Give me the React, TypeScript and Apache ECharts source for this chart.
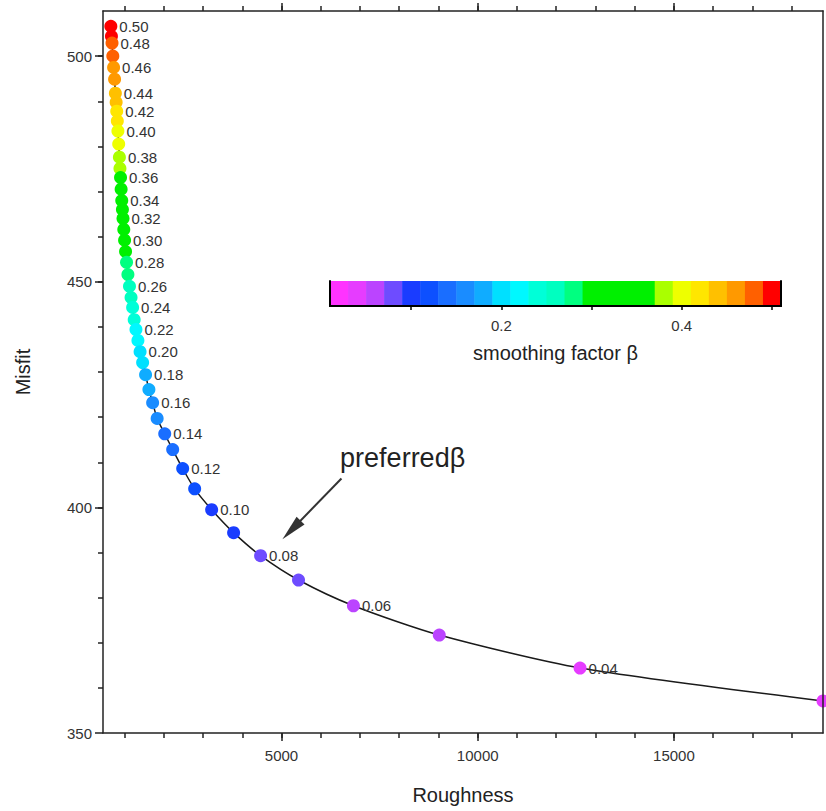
import { useEffect, useRef } from 'react';
import * as echarts from 'echarts';

// smoothing factor β for each point (top of the curve to bottom)
const betaValues = [
  0.5, 0.49, 0.48, 0.47, 0.46, 0.45, 0.44, 0.43, 0.42, 0.41, 0.4, 0.39, 0.38, 0.37, 0.36, 0.35,
  0.34, 0.33, 0.32, 0.31, 0.3, 0.29, 0.28, 0.27, 0.26, 0.25, 0.24, 0.23, 0.22, 0.21, 0.2, 0.19,
  0.18, 0.17, 0.16, 0.15, 0.14, 0.13, 0.12, 0.11, 0.1, 0.09, 0.08, 0.07, 0.06, 0.05, 0.04, 0.03,
];
const roughness = [
  650, 665, 680, 700, 720, 745, 765, 785, 800, 815, 830, 850, 868, 882, 897, 912,
  928, 945, 960, 980, 1000, 1025, 1050, 1085, 1125, 1165, 1205, 1245, 1290, 1340, 1395, 1460,
  1535, 1620, 1715, 1830, 2023, 2226, 2481, 2786, 3219, 3779, 4466, 5433, 6832, 9020, 12608, 18800,
];
const misfit = [
  506.6, 504.4, 502.9, 500.0, 497.5, 494.9, 491.8, 489.8, 487.8, 485.6, 483.4, 480.5, 477.6, 475.1, 473.1, 470.5,
  468.0, 466.0, 464.0, 461.6, 459.2, 456.7, 454.3, 451.6, 449.0, 446.5, 444.3, 441.6, 439.4, 437.0, 434.5, 432.1,
  429.4, 426.1, 423.2, 419.7, 416.3, 412.8, 408.6, 404.1, 399.5, 394.4, 389.3, 383.9, 378.2, 371.7, 364.4, 357.1,
];

// colour bar: segment centres and colours
const segmentCenters = [
  0.02, 0.04, 0.06, 0.08, 0.1, 0.12, 0.14, 0.16, 0.18, 0.2, 0.22, 0.24, 0.26,
  0.28, 0.3, 0.32, 0.34, 0.36, 0.38, 0.4, 0.42, 0.44, 0.46, 0.48, 0.5,
];
const segmentColors = [
  '#ff33ff', '#e63cff', '#bb44ff', '#6e4cff', '#1a3cff', '#0d50ff', '#1a6eff', '#1a8cff', '#10acff',
  '#00e0ff', '#00f8ff', '#00ffd8', '#00ffc0', '#00ff80', '#00f000', '#00f000', '#00f000', '#00f000',
  '#aaff00', '#eeff00', '#ffe600', '#ffc000', '#ff9900', '#ff6000', '#ff0000',
];
const colorbarTicks = [0.1, 0.2, 0.3, 0.4, 0.5];
const colorbarLabels = [0.2, 0.4];

// axes
const xMin = 450;
const xMax = 18800;
const yMin = 350;
const yMax = 510;
const xMajorTicks = [5000, 10000, 15000];
const xMinorTicks = [1000, 2000, 3000, 4000, 5000, 6000, 7000, 8000, 9000, 10000, 11000, 12000, 13000, 14000, 15000, 16000, 17000, 18000];
const yMajorTicks = [350, 400, 450, 500];
const yMinorTicks = [360, 370, 380, 390, 400, 410, 420, 430, 440, 450, 460, 470, 480, 490, 500];

// annotation (data coordinates)
const arrowStart = [6527, 406.4];
const arrowEnd = [5254, 395.0];
const annotationAnchor = [6480, 411.0];
const annotationText = 'preferredβ';

const FONT = '"Liberation Sans", Arial, Helvetica, sans-serif';

function pointColor(b: number) {
  const k = Math.round(b * 100);
  const idx = Math.min(segmentColors.length, Math.max(1, Math.round(k / 2))) - 1;
  return segmentColors[idx];
}

const plain = (v: number) => String(v);

export default function App() {
  const ref = useRef<HTMLDivElement>(null);
  useEffect(() => {
    if (!ref.current) return;
    const chart = echarts.init(ref.current, undefined, { renderer: 'svg' });

    const lineData = betaValues.map((b, i) => {
      const k = Math.round(b * 100);
      return {
        value: [roughness[i], misfit[i]],
        itemStyle: { color: pointColor(b) },
        label: { show: k % 2 === 0 },
        beta: b,
      };
    });

    const hiddenAxisBase = {
      axisLabel: { show: false },
      splitLine: { show: false },
    };

    const option: any = {
      animation: false,
      backgroundColor: '#ffffff',
      textStyle: { fontFamily: FONT },
      grid: [
        { left: 103, top: 11, right: 3, bottom: 78, containLabel: false },
        { left: 330, top: 281, width: 451, height: 25, containLabel: false },
      ],
      xAxis: [
        {
          gridIndex: 0, type: 'value', position: 'bottom', min: xMin, max: xMax,
          axisLine: { show: true, lineStyle: { color: '#222', width: 1.5 } },
          axisTick: { show: true, customValues: xMajorTicks, length: 8, lineStyle: { color: '#222', width: 1.5 } },
          axisLabel: { show: true, customValues: xMajorTicks, formatter: plain, fontSize: 15, color: '#333', margin: 15, fontFamily: FONT },
          splitLine: { show: false },
          name: 'Roughness', nameLocation: 'middle', nameGap: 52,
          nameTextStyle: { fontSize: 20, color: '#222', fontFamily: FONT },
          z: 10,
        },
        {
          gridIndex: 0, type: 'value', position: 'bottom', min: xMin, max: xMax,
          axisLine: { show: false },
          axisTick: { show: true, customValues: xMinorTicks, length: 5, lineStyle: { color: '#222', width: 1.5 } },
          ...hiddenAxisBase,
          z: 10,
        },
        {
          gridIndex: 0, type: 'value', position: 'top', min: xMin, max: xMax,
          axisLine: { show: true, lineStyle: { color: '#222', width: 1.5 } },
          axisTick: { show: true, customValues: xMajorTicks, length: 8, lineStyle: { color: '#222', width: 1.5 } },
          ...hiddenAxisBase,
          z: 10,
        },
        {
          gridIndex: 0, type: 'value', position: 'top', min: xMin, max: xMax,
          axisLine: { show: false },
          axisTick: { show: true, customValues: xMinorTicks, length: 5, lineStyle: { color: '#222', width: 1.5 } },
          ...hiddenAxisBase,
          z: 10,
        },
        {
          gridIndex: 1, type: 'value', position: 'bottom', min: 0.01, max: 0.51,
          axisLine: { show: true, lineStyle: { color: '#000', width: 2 } },
          axisTick: { show: true, customValues: colorbarTicks, length: 4, lineStyle: { color: '#000', width: 1.5 } },
          axisLabel: { show: true, customValues: colorbarLabels, formatter: plain, fontSize: 15, color: '#333', margin: 12, fontFamily: FONT },
          splitLine: { show: false },
          name: 'smoothing factor β', nameLocation: 'middle', nameGap: 37,
          nameTextStyle: { fontSize: 20, color: '#222', fontFamily: FONT },
          z: 10,
        },
        {
          gridIndex: 1, type: 'value', position: 'top', min: 0.01, max: 0.51,
          axisLine: { show: true, lineStyle: { color: '#000', width: 2 } },
          axisTick: { show: false },
          ...hiddenAxisBase,
          z: 10,
        },
      ],
      yAxis: [
        {
          gridIndex: 0, type: 'value', position: 'left', min: yMin, max: yMax,
          axisLine: { show: true, lineStyle: { color: '#222', width: 1.5 } },
          axisTick: { show: true, customValues: yMajorTicks, length: 8, lineStyle: { color: '#222', width: 1.5 } },
          axisLabel: { show: true, customValues: yMajorTicks, formatter: plain, fontSize: 15, color: '#333', margin: 11, fontFamily: FONT },
          splitLine: { show: false },
          name: 'Misfit', nameLocation: 'middle', nameGap: 70, nameRotate: 90,
          nameTextStyle: { fontSize: 20, color: '#222', fontFamily: FONT },
          z: 10,
        },
        {
          gridIndex: 0, type: 'value', position: 'left', min: yMin, max: yMax,
          axisLine: { show: false },
          axisTick: { show: true, customValues: yMinorTicks, length: 5, lineStyle: { color: '#222', width: 1.5 } },
          ...hiddenAxisBase,
          z: 10,
        },
        {
          gridIndex: 0, type: 'value', position: 'right', min: yMin, max: yMax,
          axisLine: { show: true, lineStyle: { color: '#222', width: 1.5 } },
          axisTick: { show: false },
          ...hiddenAxisBase,
          z: 10,
        },
        {
          gridIndex: 1, type: 'value', position: 'left', min: 0, max: 1,
          axisLine: { show: true, lineStyle: { color: '#000', width: 2 } },
          axisTick: { show: false },
          ...hiddenAxisBase,
          z: 10,
        },
        {
          gridIndex: 1, type: 'value', position: 'right', min: 0, max: 1,
          axisLine: { show: true, lineStyle: { color: '#000', width: 2 } },
          axisTick: { show: false },
          ...hiddenAxisBase,
          z: 10,
        },
      ],
      series: [
        {
          type: 'line',
          xAxisIndex: 0,
          yAxisIndex: 0,
          data: lineData,
          smooth: 0.25,
          symbol: 'circle',
          symbolSize: 13,
          showAllSymbol: true,
          lineStyle: { color: '#1a1a1a', width: 1.5 },
          label: {
            position: 'right',
            distance: 2,
            fontSize: 15,
            color: '#333',
            fontFamily: FONT,
            formatter: (p: any) => (p.data.beta as number).toFixed(2),
          },
          emphasis: { disabled: true },
          markLine: {
            silent: true,
            animation: false,
            symbol: ['none', 'triangle'],
            symbolSize: 20,
            label: { show: false },
            lineStyle: { color: '#333', width: 2, type: 'solid' },
            itemStyle: { color: '#333' },
            data: [[{ coord: arrowStart }, { coord: arrowEnd, symbol: 'triangle', symbolSize: [11, 26] }]],
          },
          markPoint: {
            silent: true,
            animation: false,
            symbol: 'circle',
            symbolSize: 1,
            itemStyle: { color: 'rgba(0,0,0,0)' },
            label: {
              show: true,
              position: 'right',
              distance: 0,
              formatter: annotationText,
              fontSize: 27,
              color: '#222',
              fontFamily: FONT,
            },
            data: [{ coord: annotationAnchor }],
          },
        },
        {
          type: 'custom',
          xAxisIndex: 4,
          yAxisIndex: 3,
          data: segmentCenters.map((c) => [c, 0]),
          encode: { x: 0, y: 1 },
          silent: true,
          renderItem: (params: any, api: any) => {
            const c = api.value(0);
            const p0 = api.coord([c - 0.01, 1]);
            const p1 = api.coord([c + 0.01, 0]);
            return {
              type: 'rect',
              shape: { x: p0[0], y: p0[1], width: p1[0] - p0[0] + 0.5, height: p1[1] - p0[1] },
              style: { fill: segmentColors[params.dataIndex] },
            };
          },
        },
      ],
    };

    chart.setOption(option);
    return () => chart.dispose();
  }, []);

  return (
    <div
      ref={ref}
      style={{ position: 'absolute', left: 0, top: 0, width: 826, height: 811, background: '#fff' }}
    />
  );
}
